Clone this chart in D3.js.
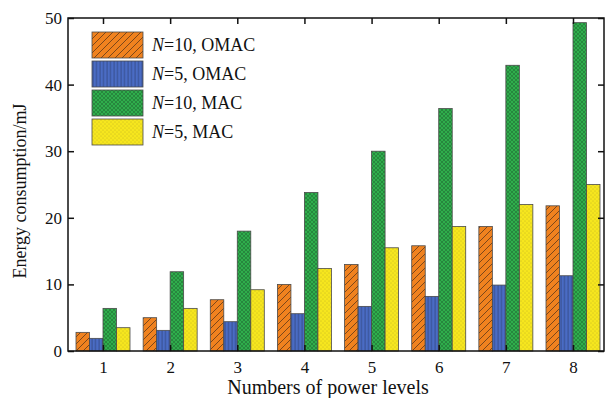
<!DOCTYPE html>
<html>
<head>
<meta charset="utf-8">
<script src="https://cdn.jsdelivr.net/npm/d3@7"></script>
<style>
  body { margin: 0; background: #fff; }
  text { font-family: "Liberation Serif", "Times New Roman", serif; fill: #111; }
</style>
</head>
<body>
<svg width="608" height="398"></svg>
<script>
const levels = [1, 2, 3, 4, 5, 6, 7, 8]
const seriesNames = ['N=10, OMAC', 'N=5, OMAC', 'N=10, MAC', 'N=5, MAC']
const omac10 = [2.8, 5.0, 7.7, 10.0, 13.0, 15.8, 18.7, 21.8]
const omac5 = [1.9, 3.1, 4.4, 5.6, 6.7, 8.2, 9.9, 11.3]
const mac10 = [6.4, 11.9, 18.0, 23.8, 30.0, 36.4, 42.9, 49.3]
const mac5 = [3.5, 6.4, 9.2, 12.4, 15.5, 18.7, 22.0, 25.0]
const yTicks = [0, 10, 20, 30, 40, 50]

const seriesValues = [omac10, omac5, mac10, mac5]
const colors = ['#f0821f', '#4a6cc4', '#2fae4c', '#f6e61e']
const patternIds = ['hatchOrange', 'hatchBlue', 'hatchGreen', 'hatchYellow']

let plotLeft = 68, plotRight = 604, plotTop = 18, plotBottom = 351

const svg = d3.select('svg')

// x: category centres, y: energy
let xScale = d3.scaleLinear().domain([1, 8]).range([103, 573])
let yScale = d3.scaleLinear().domain([0, 50]).range([plotBottom, plotTop])
let barW = 13.5
let offset = d3.scaleBand().domain(d3.range(4)).range([-2 * barW, 2 * barW])

// fill patterns
const defs = svg.append('defs')
let p0 = defs.append('pattern').attr('id', patternIds[0]).attr('patternUnits', 'userSpaceOnUse')
  .attr('width', 7).attr('height', 7)
p0.append('rect').attr('width', 7).attr('height', 7).attr('fill', colors[0])
p0.append('path').attr('d', 'M-1,8 L8,-1 M-1,1 L1,-1 M6,8 L8,6').attr('stroke', '#4a2e18').attr('stroke-width', 0.7)

let p1 = defs.append('pattern').attr('id', patternIds[1]).attr('patternUnits', 'userSpaceOnUse')
  .attr('width', 3.5).attr('height', 4)
p1.append('rect').attr('width', 3.5).attr('height', 4).attr('fill', colors[1])
p1.append('path').attr('d', 'M1,0 L1,4').attr('stroke', '#253566').attr('stroke-width', 0.6)

let p2 = defs.append('pattern').attr('id', patternIds[2]).attr('patternUnits', 'userSpaceOnUse')
  .attr('width', 4).attr('height', 4)
p2.append('rect').attr('width', 4).attr('height', 4).attr('fill', colors[2])
p2.append('path').attr('d', 'M0,0 L4,4 M4,0 L0,4').attr('stroke', '#1d5a2c').attr('stroke-width', 0.45)

let p3 = defs.append('pattern').attr('id', patternIds[3]).attr('patternUnits', 'userSpaceOnUse')
  .attr('width', 4).attr('height', 4)
p3.append('rect').attr('width', 4).attr('height', 4).attr('fill', colors[3])
p3.append('circle').attr('cx', 1).attr('cy', 1).attr('r', 0.45).attr('fill', '#9a8a20')
p3.append('circle').attr('cx', 3).attr('cy', 3).attr('r', 0.45).attr('fill', '#9a8a20')

// bars
seriesValues.forEach((vals, s) => {
  svg.append('g').selectAll('rect')
    .data(vals)
    .enter()
    .append('rect')
      .attr('x', (d, i) => xScale(levels[i]) + offset(s))
      .attr('y', d => yScale(d))
      .attr('width', barW)
      .attr('height', d => yScale(0) - yScale(d))
      .attr('fill', 'url(#' + patternIds[s] + ')')
      .attr('stroke', '#4a4a4a')
      .attr('stroke-width', 0.8)
})

// frame
svg.append('rect')
  .attr('x', plotLeft).attr('y', plotTop)
  .attr('width', plotRight - plotLeft).attr('height', plotBottom - plotTop)
  .attr('fill', 'none').attr('stroke', '#111').attr('stroke-width', 1.5)

// axes with inward ticks
let yAxis = d3.axisLeft(yScale).tickValues(yTicks).tickSizeInner(-6).tickSizeOuter(0).tickPadding(6)
let gy = svg.append('g').attr('transform', `translate(${plotLeft},0)`).call(yAxis)
gy.select('.domain').remove()

let yAxisR = d3.axisRight(yScale).tickValues(yTicks).tickSizeInner(-6).tickSizeOuter(0).tickFormat('')
let gyr = svg.append('g').attr('transform', `translate(${plotRight},0)`).call(yAxisR)
gyr.select('.domain').remove()

let xAxis = d3.axisBottom(xScale).tickValues(levels).tickFormat(d3.format('d'))
  .tickSizeInner(-6).tickSizeOuter(0).tickPadding(10)
let gx = svg.append('g').attr('transform', `translate(0,${plotBottom})`).call(xAxis)
gx.select('.domain').remove()

let xAxisT = d3.axisTop(xScale).tickValues(levels).tickSizeInner(-6).tickSizeOuter(0).tickFormat('')
let gxt = svg.append('g').attr('transform', `translate(0,${plotTop})`).call(xAxisT)
gxt.select('.domain').remove()

svg.selectAll('.tick line').attr('stroke', '#111').attr('stroke-width', 1.5)
svg.selectAll('.tick text')
  .attr('font-family', 'Liberation Serif')
  .style('font-family', '"Liberation Serif", serif')
  .style('font-size', '17px')
  .attr('fill', '#111')

// axis titles
svg.append('text')
  .attr('x', 328).attr('y', 394)
  .attr('text-anchor', 'middle').attr('font-size', 20)
  .text('Numbers of power levels')

svg.append('text')
  .attr('transform', 'translate(26,191) rotate(-90)')
  .attr('text-anchor', 'middle').attr('font-size', 18)
  .text('Energy consumption/mJ')

// legend
let legend = svg.append('g').selectAll('g')
  .data(seriesNames)
  .enter()
  .append('g')
    .attr('transform', (d, i) => `translate(92,${32 + i * 29})`)

legend.append('rect')
  .attr('width', 51).attr('height', 26)
  .attr('fill', (d, i) => 'url(#' + patternIds[i] + ')')
  .attr('stroke', '#4a4a4a').attr('stroke-width', 0.8)

let lt = legend.append('text')
  .attr('x', 60).attr('y', 19)
  .attr('font-size', 18)
lt.append('tspan').attr('font-style', 'italic').text(d => d.split('=')[0])
lt.append('tspan').text(d => '=' + d.split('=')[1])
</script>
</body>
</html>
